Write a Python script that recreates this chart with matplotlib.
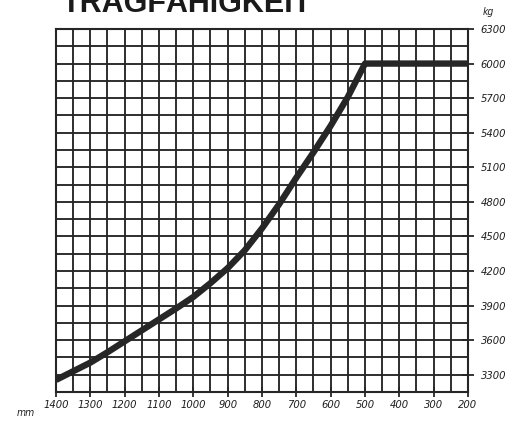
import matplotlib
matplotlib.use("Agg")
import matplotlib.pyplot as plt
import numpy as np
from matplotlib.font_manager import FontProperties

# Data
spread_mm = [1400, 1350, 1300, 1250, 1200, 1150, 1100, 1050, 1000, 950, 900,
             850, 800, 750, 700, 650, 600, 550, 500, 200]
capacity_kg = [3255, 3330, 3405, 3495, 3590, 3685, 3780, 3875, 3975, 4095, 4225,
               4380, 4570, 4780, 5010, 5230, 5460, 5710, 6000, 6000]

x_ticks = [1400, 1300, 1200, 1100, 1000, 900, 800, 700, 600, 500, 400, 300, 200]
y_ticks = [3300, 3600, 3900, 4200, 4500, 4800, 5100, 5400, 5700, 6000, 6300]

title = "TRAGFÄHIGKEIT"
x_unit = "mm"
y_unit = "kg"

W, H = 510, 421
fig = plt.figure(figsize=(W / 100, H / 100), dpi=100)
fig.patch.set_facecolor("white")

left, right, bottom, top = 56, 468, 392, 29
ax = fig.add_axes([left / W, 1 - bottom / H, (right - left) / W, (bottom - top) / H])

ax.set_xlim(1400, 200)
ax.set_ylim(3150, 6300)

gcol = "#262626"
for xv in np.arange(200, 1401, 50):
    ax.axvline(xv, color=gcol, lw=1.35, zorder=1)
for yv in np.arange(3150, 6301, 150):
    ax.axhline(yv, color=gcol, lw=1.35, zorder=1)

ax.plot(spread_mm, capacity_kg, color="#262626", lw=4.6, solid_joinstyle="round",
        solid_capstyle="butt", zorder=3)

for s in ax.spines.values():
    s.set_color(gcol)
    s.set_linewidth(1.5)

tick_fp = FontProperties(family="DejaVu Sans", style="oblique", stretch="condensed", size=8)
unit_fp = FontProperties(family="DejaVu Sans", style="oblique", stretch="condensed", size=7.5)

ax.set_xticks(x_ticks)
ax.set_xticklabels([str(v) for v in x_ticks])
ax.yaxis.tick_right()
ax.set_yticks(y_ticks)
ax.set_yticklabels([str(v) for v in y_ticks])
for lab in ax.get_xticklabels() + ax.get_yticklabels():
    lab.set_fontproperties(tick_fp)
    lab.set_color("#1e1e1e")
ax.tick_params(axis="x", direction="inout", length=7, width=1.3, color=gcol, pad=2.5)
ax.tick_params(axis="y", direction="inout", length=8, width=1.3, color=gcol, pad=5)

fig.text(62 / W, 1 - 12 / H, title, ha="left", va="baseline",
         fontsize=22, fontweight="bold", family=["Liberation Sans", "DejaVu Sans"],
         color="#1a1a1a")
fig.text(483 / W, 1 - 12 / H, y_unit, ha="left", va="center", fontproperties=unit_fp,
         color="#222222")
fig.text(17 / W, 1 - 413 / H, x_unit, ha="left", va="center", fontproperties=unit_fp,
         color="#222222")

fig.savefig("out.png", dpi=100, facecolor="white")
